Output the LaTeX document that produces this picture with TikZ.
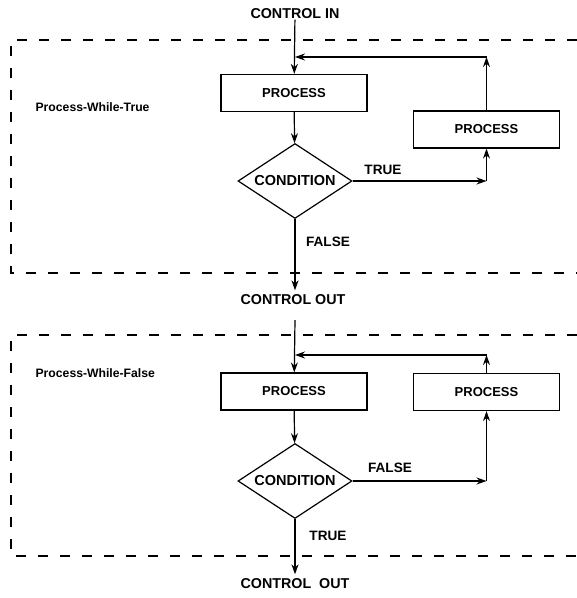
\documentclass[tikz,border=0pt]{standalone}
\usepackage{fontspec}
\setmainfont{Liberation Sans}
\usetikzlibrary{shapes.geometric,arrows.meta}
\begin{document}
\begin{tikzpicture}[x=1pt,y=-1pt,
  font=\bfseries\fontsize{13}{15}\selectfont,
  line width=1.2pt,
  arr/.style={-{Stealth[length=10pt,width=7pt]}},
  procbox/.style={draw,rectangle,minimum width=146pt,minimum height=37pt,inner sep=0pt},
  cond/.style={draw,diamond,minimum width=114pt,minimum height=75pt,inner sep=0pt,shape aspect=1.52,
    font=\bfseries\fontsize{14.5}{16}\selectfont},
  frame/.style={dash pattern=on 10pt off 12pt,line width=1.2pt},
  tag/.style={inner sep=0pt,font=\bfseries\fontsize{13.6}{16}\selectfont},
  io/.style={inner sep=0pt,font=\bfseries\fontsize{14.3}{16}\selectfont},
  title/.style={inner sep=0pt,anchor=west,font=\bfseries\fontsize{12.2}{14}\selectfont}]
\useasboundingbox (0,0) rectangle (577,598);

% ---------- Process-While-True ----------
\draw[frame] (577,40) -- (11,40) -- (11,273) -- (577,273);
\node[title] (t1) at (35,107) {Process-While-True};

\node[io] (cin) at (295,14) {CONTROL IN};
\node[procbox] (p1) at (294,93) {PROCESS};
\node[procbox] (r1) at (486.5,129.5) {PROCESS};
\node[cond] (c1) at (295,181) {CONDITION};
\node[tag] (lt1) at (383,170) {TRUE};
\node[tag] (lf1) at (328,242) {FALSE};
\node[io] (cout1) at (293,300) {CONTROL OUT};

\coordinate (j1) at (295,57);
\coordinate (f1) at (r1 |- j1);
\coordinate (k1) at (r1 |- c1);

\draw[arr] (cin) -- (p1);
\draw[arr] (p1) -- (c1);
\draw[arr] (c1) -- (k1);
\draw[arr] (k1) -- (r1);
\draw[arr] (r1) -- (f1);
\draw[arr] (f1) -- (j1);
\draw[arr] (c1.south) -- ([yshift=4pt]c1.south |- cout1.north);

% ---------- Process-While-False ----------
\draw[frame] (577,335) -- (11,335) -- (11,556) -- (577,556);
\node[title] (t2) at (35,373) {Process-While-False};

\coordinate (s2) at (295,320);
\node[procbox] (p2) at (294,391.5) {PROCESS};
\node[procbox] (r2) at (486.5,392) {PROCESS};
\node[cond] (c2) at (295,481) {CONDITION};
\node[tag] (lf2) at (390,468) {FALSE};
\node[tag] (lt2) at (328,536) {TRUE};
\node[io] (cout2) at (295,584) {CONTROL\ \ OUT};

\coordinate (j2) at (295,355);
\coordinate (f2) at (r2 |- j2);
\coordinate (k2) at (r2 |- c2);

\draw[arr] (s2) -- (p2);
\draw[arr] (p2) -- (c2);
\draw[arr] (c2) -- (k2);
\draw[arr] (k2) -- (r2);
\draw[arr] (r2) -- (f2);
\draw[arr] (f2) -- (j2);
\draw[arr] (c2.south) -- ([yshift=4pt]c2.south |- cout2.north);
\end{tikzpicture}
\end{document}
